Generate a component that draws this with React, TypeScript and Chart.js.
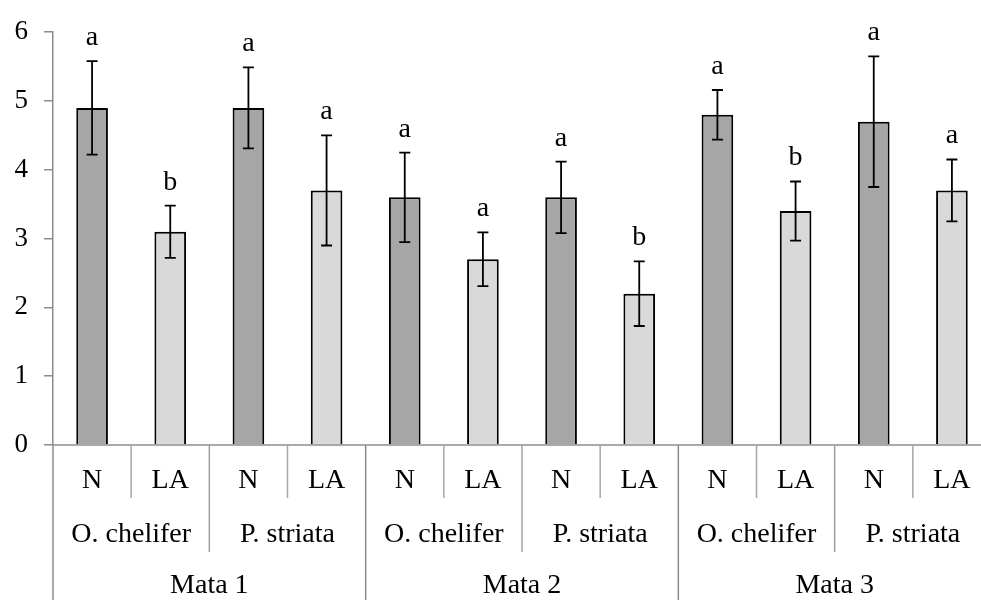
import React, { useEffect, useRef } from "react";
import { Chart, registerables } from "chart.js";

Chart.register(...registerables);

const treatments = ["N", "LA", "N", "LA", "N", "LA", "N", "LA", "N", "LA", "N", "LA"];
const species = ["O. chelifer", "P. striata", "O. chelifer", "P. striata", "O. chelifer", "P. striata"];
const sites = ["Mata 1", "Mata 2", "Mata 3"];
const means = [4.9, 3.1, 4.9, 3.7, 3.6, 2.7, 3.6, 2.2, 4.8, 3.4, 4.7, 3.7];
const errors = [0.68, 0.38, 0.59, 0.8, 0.65, 0.39, 0.52, 0.47, 0.36, 0.43, 0.95, 0.45];
const letters = ["a", "b", "a", "a", "a", "a", "a", "b", "a", "b", "a", "a"];
const yTicks = [0, 1, 2, 3, 4, 5, 6];

const DARK = "#a6a6a6";
const LIGHT = "#d9d9d9";
const FONT = "'Liberation Serif', 'Times New Roman', serif";

const overlayPlugin = {
  id: "overlay",
  afterDatasetsDraw(chart: any) {
    const ctx = chart.ctx;
    const y = chart.scales.y;
    const meta = chart.getDatasetMeta(0);
    ctx.save();
    ctx.strokeStyle = "#000";
    ctx.lineWidth = 1.8;
    meta.data.forEach((bar: any, i: number) => {
      const cx = bar.x;
      const top = y.getPixelForValue(means[i] + errors[i]);
      const bot = y.getPixelForValue(means[i] - errors[i]);
      ctx.beginPath();
      ctx.moveTo(cx, top);
      ctx.lineTo(cx, bot);
      ctx.moveTo(cx - 5.5, top);
      ctx.lineTo(cx + 5.5, top);
      ctx.moveTo(cx - 5.5, bot);
      ctx.lineTo(cx + 5.5, bot);
      ctx.stroke();
      ctx.fillStyle = "#000";
      ctx.font = `28px ${FONT}`;
      ctx.textAlign = "center";
      ctx.textBaseline = "alphabetic";
      ctx.fillText(letters[i], cx, top - 16);
    });
    ctx.restore();
  },
  afterDraw(chart: any) {
    const ctx = chart.ctx;
    const x = chart.scales.x;
    const area = chart.chartArea;
    const n = treatments.length;
    const w = (area.right - area.left) / n;
    const base = area.bottom;
    ctx.save();
    ctx.strokeStyle = "#8c8c8c";
    ctx.lineWidth = 1.5;
    ctx.beginPath();
    ctx.moveTo(area.left, base);
    ctx.lineTo(chart.width, base);
    ctx.stroke();
    for (let k = 0; k <= n; k++) {
      const px = area.left + k * w;
      let end = base + 53;
      let color = "#a6a6a6";
      if (k % 4 === 0) {
        end = chart.height;
        color = "#8c8c8c";
      } else if (k % 2 === 0) {
        end = base + 107;
        color = "#a0a0a0";
      }
      ctx.strokeStyle = color;
      ctx.beginPath();
      ctx.moveTo(px, base);
      ctx.lineTo(px, end);
      ctx.stroke();
    }
    ctx.fillStyle = "#000";
    ctx.textAlign = "center";
    ctx.textBaseline = "middle";
    ctx.font = `28px ${FONT}`;
    treatments.forEach((t, i) => {
      ctx.fillText(t, x.getPixelForValue(i), base + 36);
    });
    species.forEach((s, i) => {
      ctx.fillText(s, area.left + (2 * i + 1) * w, base + 90);
    });
    sites.forEach((s, i) => {
      ctx.fillText(s, area.left + (4 * i + 2) * w, base + 141);
    });
    ctx.restore();
  },
};

export default function App() {
  const ref = useRef<HTMLCanvasElement | null>(null);
  useEffect(() => {
    if (!ref.current) return;
    const chart = new Chart(ref.current, {
      type: "bar",
      data: {
        labels: treatments,
        datasets: [
          {
            data: means,
            backgroundColor: treatments.map((t) => (t === "N" ? DARK : LIGHT)),
            borderColor: "#000",
            borderWidth: { top: 2, left: 2, right: 2, bottom: 0 },
            borderSkipped: "bottom",
            barPercentage: 0.405,
            categoryPercentage: 1,
          },
        ],
      },
      options: {
        responsive: false,
        animation: false,
        layout: { padding: { top: 25, bottom: 155, left: 0, right: 9 } },
        plugins: { legend: { display: false }, tooltip: { enabled: false } },
        scales: {
          x: { display: false },
          y: {
            min: 0,
            max: 6,
            afterBuildTicks: (s: any) => {
              s.ticks = yTicks.map((v) => ({ value: v }));
            },
            afterFit: (s: any) => {
              s.width = 53;
            },
            ticks: {
              color: "#000",
              font: { family: FONT, size: 27 },
              padding: 16,
            },
            grid: {
              drawOnChartArea: false,
              drawTicks: true,
              tickLength: 9,
              color: "#8c8c8c",
              lineWidth: 1.5,
            },
            border: { display: true, color: "#8c8c8c", width: 1.5 },
          },
        },
      },
      plugins: [overlayPlugin],
    });
    return () => chart.destroy();
  }, []);
  return (
    <div
      style={{
        position: "absolute",
        left: 0,
        top: 0,
        width: 981,
        height: 600,
        overflow: "hidden",
        background: "#fff",
      }}
    >
      <canvas ref={ref} width={1000} height={600} style={{ display: "block" }} />
    </div>
  );
}
